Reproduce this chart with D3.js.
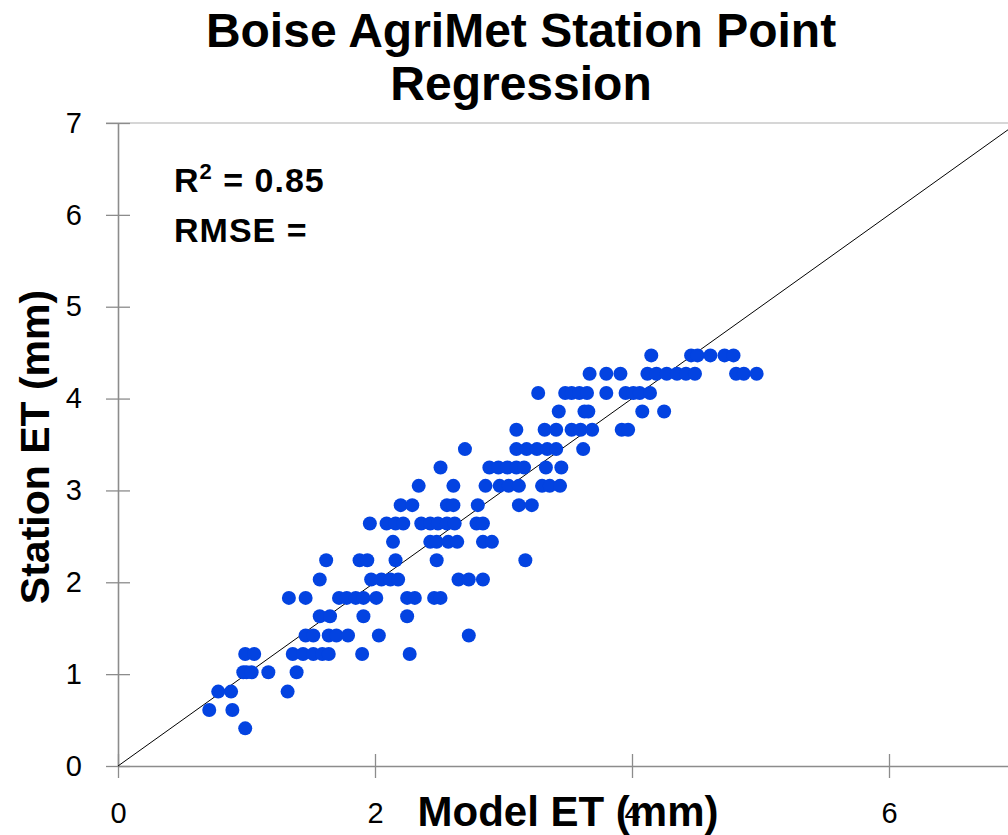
<!DOCTYPE html>
<html lang="en">
  <head>
    <meta charset="utf-8">
    <title>Boise AgriMet Station Point Regression</title>
    <script type="text/javascript" src="https://cdn.jsdelivr.net/npm/d3@7"></script>
    <style>
      body { margin: 0; background: #fff; }
      svg { display: block; font-family: "Liberation Sans", Arial, sans-serif; }
    </style>
  </head>
  <body>
    <script type="text/javascript">
      // station ET levels (mm) and the model ET values found on each level
      var stationET = [0.41, 0.61, 0.81, 1.02, 1.22, 1.42, 1.63, 1.83, 2.03, 2.24, 2.44,
                       2.64, 2.84, 3.05, 3.25, 3.45, 3.66, 3.86, 4.06, 4.27, 4.47];
      var modelET = [
        [0.99],
        [0.71, 0.89],
        [0.78, 0.88, 1.32],
        [0.975, 1.0, 1.04, 1.17, 1.39],
        [0.99, 1.06, 1.36, 1.44, 1.52, 1.59, 1.64, 1.90, 2.27],
        [1.46, 1.52, 1.64, 1.70, 1.79, 2.03, 2.73],
        [1.57, 1.65, 1.91, 2.25],
        [1.33, 1.46, 1.72, 1.78, 1.85, 1.91, 2.01, 2.25, 2.31, 2.46, 2.51],
        [1.57, 1.97, 2.05, 2.12, 2.18, 2.65, 2.73, 2.84],
        [1.62, 1.88, 1.94, 2.16, 2.48, 3.17],
        [2.14, 2.43, 2.48, 2.57, 2.64, 2.84, 2.91],
        [1.96, 2.09, 2.16, 2.22, 2.36, 2.43, 2.49, 2.56, 2.62, 2.79, 2.84],
        [2.20, 2.29, 2.56, 2.61, 2.80, 3.12, 3.22],
        [2.34, 2.61, 2.86, 2.97, 3.04, 3.12, 3.30, 3.36, 3.44],
        [2.51, 2.89, 2.96, 3.03, 3.10, 3.16, 3.33, 3.45],
        [2.70, 3.10, 3.18, 3.26, 3.34, 3.41, 3.62],
        [3.10, 3.32, 3.41, 3.53, 3.60, 3.69, 3.92, 3.97],
        [3.43, 3.63, 3.66, 4.08, 4.25],
        [3.27, 3.48, 3.53, 3.59, 3.65, 3.80, 3.95, 4.01, 4.06, 4.14],
        [3.67, 3.80, 3.91, 4.12, 4.19, 4.27, 4.35, 4.42, 4.49, 4.81, 4.87, 4.97],
        [4.15, 4.46, 4.51, 4.61, 4.72, 4.79]
      ];
      var xTicks = [0, 2, 4, 6];
      var yTicks = [0, 1, 2, 3, 4, 5, 6, 7];
      var oneToOne = [[0, 0], [7, 7]];

      var w = 1008;
      var h = 835;

      var data = [];
      stationET.forEach(function(s, i) {
        modelET[i].forEach(function(m) { data.push({model: m, station: s}); });
      });

      var svg = d3.select("body")
        .append("svg")
        .attr("width", w)
        .attr("height", h);

      var xScale = d3.scaleLinear().domain([0, 7]).range([118, 1017.5]);
      var yScale = d3.scaleLinear().domain([0, 7]).range([766, 123]);

      // top border line at 7
      svg.append("line")
        .attr("x1", 106).attr("x2", w)
        .attr("y1", yScale(7)).attr("y2", yScale(7))
        .attr("stroke", "#c8c8c8")
        .attr("stroke-width", 1.5);

      var xAxis = d3.axisBottom(xScale).tickValues(xTicks).tickFormat(d3.format("d"))
        .tickSize(12).tickSizeOuter(0).tickPadding(24);
      var yAxis = d3.axisLeft(yScale).tickValues(yTicks).tickFormat(d3.format("d"))
        .tickSize(12).tickSizeOuter(0).tickPadding(24);

      var gx = svg.append("g")
        .attr("transform", "translate(0," + yScale(0) + ")")
        .call(xAxis);
      var gy = svg.append("g")
        .attr("transform", "translate(" + xScale(0) + ",0)")
        .call(yAxis);

      gx.selectAll(".tick line").attr("y1", -12);
      gy.selectAll(".tick line").attr("x1", 12);
      [gx, gy].forEach(function(g) {
        g.select(".domain").attr("stroke", "#8c8c8c").attr("stroke-width", 1.6);
        g.selectAll(".tick line").attr("stroke", "#8c8c8c").attr("stroke-width", 1.3);
        g.selectAll(".tick text")
          .attr("fill", "#000")
          .style("font-size", "29px")
          .style("font-family", "'Liberation Sans', Arial, sans-serif");
      });

      // 1:1 line
      svg.append("path")
        .datum(oneToOne)
        .attr("fill", "none")
        .attr("stroke", "#000")
        .attr("stroke-width", 1)
        .attr("d", d3.line()
          .x(function(d) { return xScale(d[0]); })
          .y(function(d) { return yScale(d[1]); }));

      svg.selectAll("circle.pt")
        .data(data)
        .enter()
        .append("circle")
        .attr("class", "pt")
        .attr("cx", function(d) { return xScale(d.model); })
        .attr("cy", function(d) { return yScale(d.station); })
        .attr("r", 7)
        .attr("fill", "#0343e1");

      // title
      var title = svg.append("text")
        .attr("text-anchor", "middle")
        .style("font-size", "48px")
        .style("font-weight", "bold");
      title.append("tspan").attr("x", 521).attr("y", 47).text("Boise AgriMet Station Point");
      title.append("tspan").attr("x", 521).attr("y", 100).text("Regression");

      // stats
      var r2 = svg.append("text")
        .attr("x", 174).attr("y", 192)
        .style("font-size", "34px")
        .style("font-weight", "bold")
        .style("letter-spacing", "1px");
      r2.append("tspan").text("R");
      r2.append("tspan").attr("dy", -13).style("font-size", "22px").text("2");
      r2.append("tspan").attr("dy", 13).text(" = 0.85");

      svg.append("text")
        .attr("x", 174).attr("y", 242)
        .style("font-size", "34px")
        .style("font-weight", "bold")
        .style("letter-spacing", "1px")
        .text("RMSE =");

      // axis labels
      svg.append("text")
        .attr("x", 568).attr("y", 826)
        .attr("text-anchor", "middle")
        .style("font-size", "42px")
        .style("font-weight", "bold")
        .text("Model ET (mm)");

      svg.append("text")
        .attr("transform", "translate(49,447) rotate(-90)")
        .attr("text-anchor", "middle")
        .style("font-size", "41px")
        .style("font-weight", "bold")
        .text("Station ET (mm)");
    </script>
  </body>
</html>
